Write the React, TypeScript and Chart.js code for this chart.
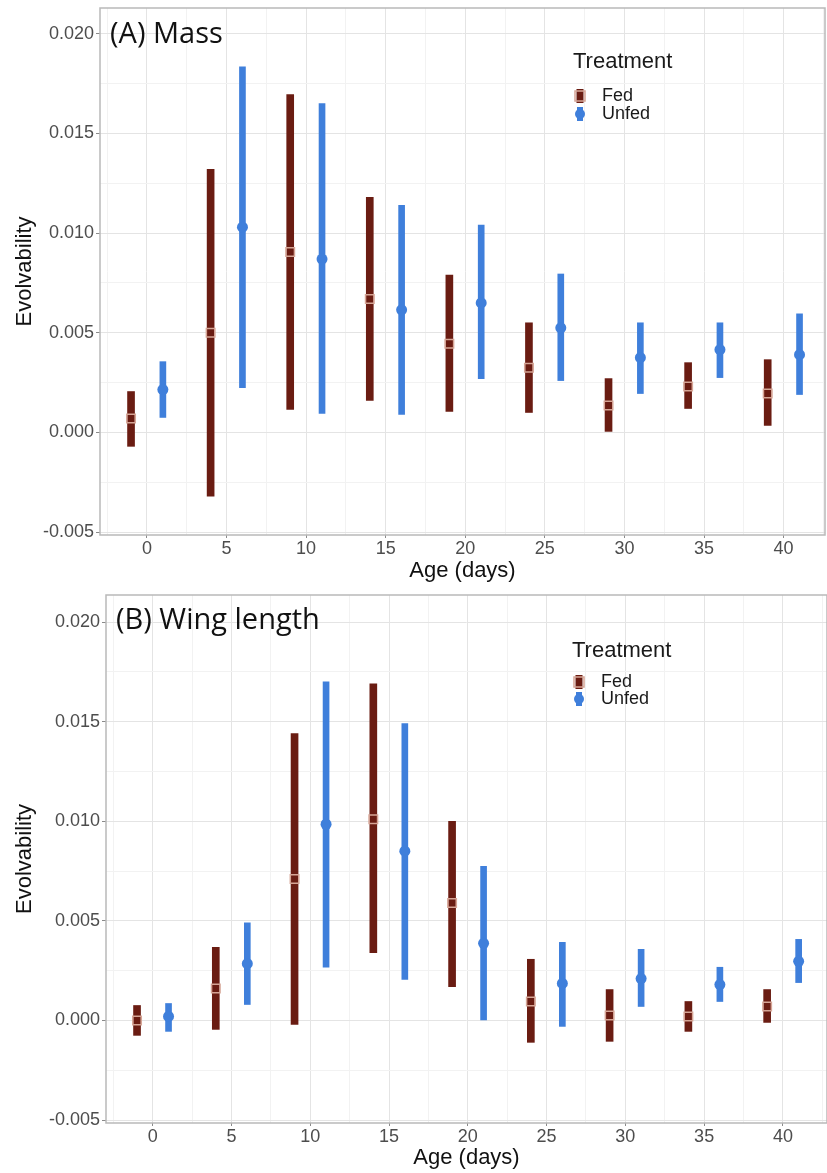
import React, { useEffect, useRef } from "react";
import { Chart, registerables } from "chart.js";

Chart.register(...registerables);

// ---------------- data ----------------
const ageFed = [-1, 4, 9, 14, 19, 24, 29, 34, 39];
const ageUnfed = [1, 6, 11, 16, 21, 26, 31, 36, 41];

// (A) Mass
const massFedEst = [0.0007, 0.005, 0.00905, 0.0067, 0.00445, 0.00325, 0.00135, 0.0023, 0.00195];
const massFedLow = [-0.0007, -0.0032, 0.00115, 0.0016, 0.00105, 0.001, 0.00005, 0.0012, 0.00035];
const massFedHigh = [0.00205, 0.0132, 0.01695, 0.0118, 0.0079, 0.0055, 0.0027, 0.0035, 0.00365];
const massUnfedEst = [0.00215, 0.0103, 0.0087, 0.00615, 0.0065, 0.00525, 0.00375, 0.00415, 0.0039];
const massUnfedLow = [0.00075, 0.00225, 0.00095, 0.0009, 0.0027, 0.0026, 0.00195, 0.00275, 0.0019];
const massUnfedHigh = [0.00355, 0.01835, 0.0165, 0.0114, 0.0104, 0.00795, 0.0055, 0.0055, 0.00595];

// (B) Wing length
const wingFedEst = [0.0, 0.0016, 0.0071, 0.0101, 0.0059, 0.00095, 0.00025, 0.0002, 0.0007];
const wingFedLow = [-0.00075, -0.00045, -0.0002, 0.0034, 0.0017, -0.0011, -0.00105, -0.00055, -0.0001];
const wingFedHigh = [0.00075, 0.00367, 0.0144, 0.0169, 0.01, 0.00307, 0.00155, 0.00095, 0.00155];
const wingUnfedEst = [0.0002, 0.00285, 0.00985, 0.0085, 0.00387, 0.00186, 0.0021, 0.0018, 0.00297];
const wingUnfedLow = [-0.00055, 0.0008, 0.00267, 0.00206, 0.0, -0.0003, 0.0007, 0.00095, 0.0019];
const wingUnfedHigh = [0.00085, 0.0049, 0.017, 0.0149, 0.00774, 0.00392, 0.00357, 0.00267, 0.00407];

// ticks
const xMajorTicks = [0, 5, 10, 15, 20, 25, 30, 35, 40];
const xTickLabels = ["0", "5", "10", "15", "20", "25", "30", "35", "40"];
const xMinorTicks = [-2.5, 2.5, 7.5, 12.5, 17.5, 22.5, 27.5, 32.5, 37.5, 42.5];
const yMajorTicks = [-0.005, 0, 0.005, 0.01, 0.015, 0.02];
const yTickLabels = ["-0.005", "0.000", "0.005", "0.010", "0.015", "0.020"];
const yMinorTicks = [-0.0025, 0.0025, 0.0075, 0.0125, 0.0175];

const seriesNames = ["Fed", "Unfed"];
const legendTitle = "Treatment";
const xTitle = "Age (days)";
const yTitle = "Evolvability";

// ---------------- styles ----------------
const FED_BAR = "#6a1c12";
const FED_PT = "#d6a596";
const UNFED = "#3f7fdb";
const SANS = '"Liberation Sans", Arial, sans-serif';

const near = (a: number, b: number) => Math.abs(a - b) < 1e-9;
const isMajor = (v: number, majors: number[]) => majors.some((m) => near(m, v));

type PanelCfg = {
  title: string;
  top: number;
  height: number;
  padTop: number;
  padRight: number;
  yAxisWidth: number;
  xAxisHeight: number;
  xMin: number;
  xMax: number;
  yMin: number;
  yMax: number;
  xTitlePad: number;
  titleBaseline: number;
  legendX: number;
  legendTitleY: number;
  legendItemY: number[];
  fedEst: number[];
  fedLow: number[];
  fedHigh: number[];
  unfedEst: number[];
  unfedLow: number[];
  unfedHigh: number[];
};

function zeroPad(s: any) {
  s.paddingLeft = 0;
  s.paddingRight = 0;
  s.paddingTop = 0;
  s.paddingBottom = 0;
}

function Panel({ cfg }: { cfg: PanelCfg }) {
  const ref = useRef<HTMLCanvasElement>(null);
  useEffect(() => {
    const canvas = ref.current!;
    const decor = {
      id: "decor",
      afterDraw(chart: any) {
        const { ctx, chartArea } = chart;
        ctx.save();
        // frame
        ctx.strokeStyle = "#b9b9b9";
        ctx.lineWidth = 1.5;
        ctx.strokeRect(chartArea.left, chartArea.top, chartArea.right - chartArea.left, chartArea.bottom - chartArea.top);
        // panel title
        ctx.fillStyle = "#111";
        ctx.font = '29px "Open Sans", "Noto Sans", sans-serif';
        ctx.textBaseline = "alphabetic";
        ctx.textAlign = "left";
        ctx.fillText(cfg.title, chartArea.left + 10, cfg.titleBaseline);
        // legend
        ctx.font = "22px " + SANS;
        ctx.textBaseline = "middle";
        ctx.fillStyle = "#1a1a1a";
        ctx.fillText(legendTitle, cfg.legendX, cfg.legendTitleY);
        ctx.font = "18px " + SANS;
        const symX = cfg.legendX + 7;
        // Fed key
        const fy = cfg.legendItemY[0];
        ctx.fillStyle = FED_BAR;
        ctx.fillRect(symX - 3.5, fy - 7, 7, 14);
        ctx.strokeStyle = FED_PT;
        ctx.lineWidth = 1.5;
        ctx.strokeRect(symX - 5, fy - 5, 10, 10);
        // Unfed key
        const uy = cfg.legendItemY[1];
        ctx.fillStyle = UNFED;
        ctx.fillRect(symX - 3, uy - 7, 6, 14);
        ctx.beginPath();
        ctx.arc(symX, uy, 5, 0, Math.PI * 2);
        ctx.fill();
        ctx.fillStyle = "#1a1a1a";
        ctx.fillText(seriesNames[0], cfg.legendX + 29, fy);
        ctx.fillText(seriesNames[1], cfg.legendX + 29, uy);
        ctx.restore();
      },
    };

    const chart = new Chart(canvas, {
      type: "scatter",
      data: {
        datasets: [
          {
            type: "scatter",
            label: seriesNames[0] + " estimate",
            data: ageFed.map((a, i) => ({ x: a, y: cfg.fedEst[i] })),
            pointStyle: "rect",
            pointRadius: 6,
            backgroundColor: "rgba(0,0,0,0)",
            borderColor: FED_PT,
            borderWidth: 1.5,
            order: 0,
          } as any,
          {
            type: "scatter",
            label: seriesNames[1] + " estimate",
            data: ageUnfed.map((a, i) => ({ x: a, y: cfg.unfedEst[i] })),
            pointStyle: "circle",
            pointRadius: 5.5,
            backgroundColor: UNFED,
            borderColor: UNFED,
            borderWidth: 0,
            order: 0,
          } as any,
          {
            type: "bar",
            label: seriesNames[0],
            data: ageFed.map((a, i) => ({ x: a, y: [cfg.fedLow[i], cfg.fedHigh[i]] })),
            backgroundColor: FED_BAR,
            borderWidth: 0,
            barThickness: 7,
            grouped: false,
            order: 1,
          } as any,
          {
            type: "bar",
            label: seriesNames[1],
            data: ageUnfed.map((a, i) => ({ x: a, y: [cfg.unfedLow[i], cfg.unfedHigh[i]] })),
            backgroundColor: UNFED,
            borderWidth: 0,
            barThickness: 6,
            grouped: false,
            order: 1,
          } as any,
        ],
      },
      options: {
        responsive: false,
        animation: false,
        events: [],
        layout: { autoPadding: false, padding: { top: cfg.padTop, right: cfg.padRight, left: 0, bottom: 0 } },
        plugins: { legend: { display: false }, tooltip: { enabled: false } },
        scales: {
          x: {
            type: "linear",
            min: cfg.xMin,
            max: cfg.xMax,
            offset: false,
            border: { display: false },
            grid: {
              offset: false,
              color: (c: any) => (isMajor(c.tick.value, xMajorTicks) ? "#e4e4e4" : "#f2f2f2"),
              tickColor: (c: any) => (isMajor(c.tick.value, xMajorTicks) ? "#8a8a8a" : "rgba(0,0,0,0)"),
              tickLength: 3,
              lineWidth: 1,
            },
            afterBuildTicks: (s: any) => {
              s.ticks = [...xMinorTicks, ...xMajorTicks].sort((a, b) => a - b).map((v) => ({ value: v }));
            },
            afterFit: (s: any) => {
              s.height = cfg.xAxisHeight;
              zeroPad(s);
            },
            ticks: {
              autoSkip: false,
              maxRotation: 0,
              padding: 0,
              color: "#4d4d4d",
              font: { family: SANS, size: 18 },
              callback: (v: any) => {
                const i = xMajorTicks.findIndex((m) => near(m, Number(v)));
                return i >= 0 ? xTickLabels[i] : "";
              },
            },
            title: {
              display: true,
              text: xTitle,
              color: "#111",
              font: { family: SANS, size: 22 },
              padding: { top: 0, bottom: cfg.xTitlePad },
            },
          },
          y: {
            type: "linear",
            min: cfg.yMin,
            max: cfg.yMax,
            border: { display: false },
            grid: {
              color: (c: any) => (isMajor(c.tick.value, yMajorTicks) ? "#e4e4e4" : "#f2f2f2"),
              tickColor: (c: any) => (isMajor(c.tick.value, yMajorTicks) ? "#8a8a8a" : "rgba(0,0,0,0)"),
              tickLength: 4,
              lineWidth: 1,
            },
            afterBuildTicks: (s: any) => {
              s.ticks = [...yMinorTicks, ...yMajorTicks].sort((a, b) => a - b).map((v) => ({ value: v }));
            },
            afterFit: (s: any) => {
              s.width = cfg.yAxisWidth;
              zeroPad(s);
            },
            ticks: {
              autoSkip: false,
              padding: 2,
              color: "#4d4d4d",
              font: { family: SANS, size: 18 },
              callback: (v: any) => {
                const i = yMajorTicks.findIndex((m) => near(m, Number(v)));
                return i >= 0 ? yTickLabels[i] : "";
              },
            },
            title: {
              display: true,
              text: yTitle,
              color: "#111",
              font: { family: SANS, size: 22 },
              padding: { top: 12, bottom: 0 },
            },
          },
        },
      } as any,
      plugins: [decor],
    });
    return () => chart.destroy();
  }, []);
  return (
    <canvas
      ref={ref}
      width={827}
      height={cfg.height}
      style={{ position: "absolute", left: 0, top: cfg.top, display: "block" }}
    />
  );
}

const panelA: PanelCfg = {
  title: "(A) Mass",
  top: 0,
  height: 585,
  padTop: 8,
  padRight: 2,
  yAxisWidth: 100,
  xAxisHeight: 50,
  xMin: -2.95,
  xMax: 42.6,
  yMin: -0.00515,
  yMax: 0.0213,
  xTitlePad: 1,
  titleBaseline: 43,
  legendX: 573,
  legendTitleY: 62,
  legendItemY: [96, 114],
  fedEst: massFedEst,
  fedLow: massFedLow,
  fedHigh: massFedHigh,
  unfedEst: massUnfedEst,
  unfedLow: massUnfedLow,
  unfedHigh: massUnfedHigh,
};

const panelB: PanelCfg = {
  title: "(B) Wing length",
  top: 585,
  height: 588,
  padTop: 10,
  padRight: 0,
  yAxisWidth: 106,
  xAxisHeight: 50,
  xMin: -2.97,
  xMax: 42.8,
  yMin: -0.00515,
  yMax: 0.02136,
  xTitlePad: 2,
  titleBaseline: 44,
  legendX: 572,
  legendTitleY: 66,
  legendItemY: [97, 114],
  fedEst: wingFedEst,
  fedLow: wingFedLow,
  fedHigh: wingFedHigh,
  unfedEst: wingUnfedEst,
  unfedLow: wingUnfedLow,
  unfedHigh: wingUnfedHigh,
};

export default function App() {
  return (
    <div style={{ position: "absolute", left: 0, top: 0, width: 827, height: 1173, background: "#fff" }}>
      <Panel cfg={panelA} />
      <Panel cfg={panelB} />
    </div>
  );
}
